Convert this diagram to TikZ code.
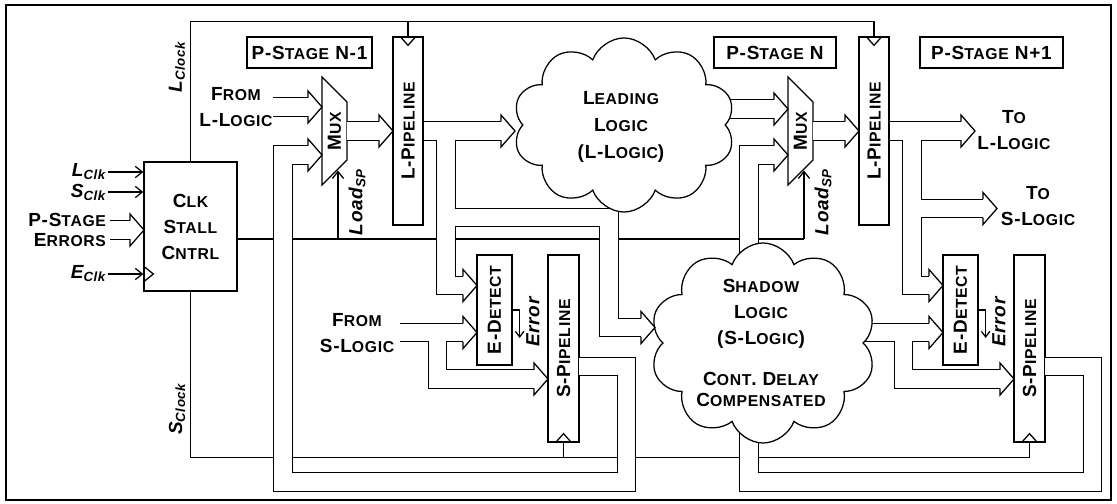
\documentclass[tikz,border=0pt]{standalone}
\usepackage{fontspec}
\setmainfont{Liberation Sans}[LetterSpace=4]
\usetikzlibrary{arrows.meta,fit,shapes.symbols}
\newcommand{\sm}[1]{{\fontsize{11.2}{18.5}\selectfont #1}}

\begin{document}
\begin{tikzpicture}[x=0.025cm, y=-0.025cm, line width=0.9pt, line join=miter,
    txt/.style={font=\fontsize{13.5}{18.5}\selectfont\bfseries, align=center, inner sep=1pt},
    sig/.style={font=\fontsize{13.5}{16}\selectfont\bfseries\itshape, inner sep=1pt},
    box/.style={draw, fill=white, inner sep=0pt},
    bus/.style={white, line width=12.26pt, preaction={draw=black, line width=14.06pt}},
    head/.style={fill=white},
    logic/.style={cloud, cloud puffs=10, cloud puff arc=140, cloud ignores aspect,
      draw, fill=white, inner sep=0pt},
    arr/.style={-{Straight Barb[length=5pt,width=8pt]}}]
  % pixel grid of the original, y going down
  \useasboundingbox (0,0) rectangle (1117,504);
  \draw[line width=1.4pt] (6,5) rectangle (1111,500);

  \node[box, fit={(144,162) (237,291)}] (clk) {};
  \node[box, fit={(247,37) (372,68)}] (psa) {};
  \node[box, fit={(714,37) (836,68)}] (psb) {};
  \node[box, fit={(920,37) (1063,68)}] (psc) {};
  % stage N-1 and stage N, 466 apart
  \foreach \dx/\s in {0/a,466/b} {
    \node[box, fit={(393+\dx,37) (423+\dx,225)}] (lpipe\s) {};
    \node[box, fit={(477+\dx,255) (512+\dx,365)}] (edet\s) {};
    \node[box, fit={(548+\dx,255) (579+\dx,442)}] (spipe\s) {};
    \draw[fill=white] (322+\dx,77) -- (347+\dx,102) -- (347+\dx,160)
      -- (322+\dx,185) -- cycle;
  }

  % clocks and stall line, run under the buses
  \draw (clk.north) -- ++(0,-140) -| (lpipeb.north);
  \draw (lpipea.north) -- ++(0,-15);
  \draw (clk.south) -- ++(0,166) -| (spipeb.south);
  \draw (spipea.south) -- ++(0,15);
  \draw (clk.east |- 0,239) -- (804,239);

  \draw[bus] (110,230) -- (130,230)
    (273,107) -- (308,107)
    (lpipea.east) -- (501,131)
    (446,217.5) -- (609,217.5) -- (609,327.5) -- (641,327.5)
    (400,332.5) -- (463,332.5)
    (715,109) -- (774,109)
    (lpipeb.east) -- (961,131)
    (912,208.5) -- (983,208.5)
    (860,332.5) -- (929,332.5)
    \foreach \dx in {0,466} {
      (347+\dx,131) -- (379+\dx,131)
      (446+\dx,131) -- (446+\dx,285.5) -- (463+\dx,285.5)
      (437.5+\dx,332.5) -- (437.5+\dx,379) -- (534+\dx,379)
      (579+\dx,366.5) -- (626.5+\dx,366.5) -- (626.5+\dx,482)
        -- (283+\dx,482) -- (283+\dx,155) -- (308+\dx,155)
    };

  \node[logic, minimum width=5.55cm, minimum height=4.35cm] (lead) at (624,125) {};
  \node[logic, minimum width=5.65cm, minimum height=5cm] (shad) at (763,343) {};

  % hollow bus arrow heads, tip at x/y
  \foreach \hx/\hy in {144/230, 322/107, 322/155, 393/131, 515/131, 477/285.5,
      477/332.5, 548/379, 655/327.5, 788/109, 788/155, 859/131, 975/131,
      997/208.5, 943/285.5, 943/332.5, 1014/379}
    \filldraw[head] (\hx-14,\hy-9.25) -- (\hx-14,\hy-16) -- (\hx,\hy)
      -- (\hx-14,\hy+16) -- (\hx-14,\hy+9.25);

  \foreach \dx/\s in {0/a,466/b} {
    \draw[arr] (338+\dx,239) -- (338+\dx,170.5);
    \draw[-{Straight Barb[length=4pt,width=6pt]}] (edet\s.east) -- ++(7,0) -- ++(0,28);
    \draw (lpipe\s.north) ++(-8,0) -- ++(8,9) -- ++(8,-9);
    \draw (spipe\s.south) ++(-8,0) -- ++(8,-9) -- ++(8,9);
    \node[txt, rotate=90] (mux\s) at (334.5+\dx,131) {M\sm{UX}};
    \node[txt, rotate=90] (lpt\s) at (lpipe\s) {L-P\sm{IPELINE}};
    \node[txt, rotate=90] (edt\s) at (edet\s) {E-D\sm{ETECT}};
    \node[txt, rotate=90] (spt\s) at (spipe\s) {S-P\sm{IPELINE}};
    \node[sig, rotate=90] (load\s) at (357+\dx,202) {Load\textsubscript{SP}};
    \node[sig, rotate=90] (err\s) at (533+\dx,322) {Error};
  }

  \node[sig, anchor=east] (lclk) at (108,172) {L\textsubscript{Clk}};
  \node[sig, anchor=east] (sclk) at (108,192) {S\textsubscript{Clk}};
  \node[sig, anchor=east] (eclk) at (108,274) {E\textsubscript{Clk}};
  \node[txt, align=right, anchor=east, font=\fontsize{13.5}{14.5}\selectfont\bfseries]
    (perr) at (108,230) {P-S\sm{TAGE}\\E\sm{RRORS}};
  \foreach \n in {lclk,sclk,eclk}
    \draw[arr] (\n.east) -- (\n.east -| clk.west);
  \draw (clk.west |- eclk.east) ++(0,-8) -- ++(10,8) -- ++(-10,8);
  \node[sig, rotate=90] (lclock) at (177,67) {L\textsubscript{Clock}};
  \node[sig, rotate=90] (sclock) at (177,409) {S\textsubscript{Clock}};

  \node[txt] (clkt) at (clk) {C\sm{LK}\\S\sm{TALL}\\C\sm{NTRL}};
  \node[txt] (psat) at (psa) {P-S\sm{TAGE} N-1};
  \node[txt] (psbt) at (psb) {P-S\sm{TAGE} N};
  \node[txt] (psct) at (psc) {P-S\sm{TAGE} N+1};
  \node[txt] (froml) at (236,107) {F\sm{ROM}\\L-L\sm{OGIC}};
  \node[txt] (froms) at (357,333.5) {F\sm{ROM}\\S-L\sm{OGIC}};
  \node[txt] (tol) at (1014,130) {T\sm{O}\\L-L\sm{OGIC}};
  \node[txt] (tos) at (1038,206) {T\sm{O}\\S-L\sm{OGIC}};
  \node[txt, font=\fontsize{13.5}{19}\selectfont\bfseries] (leadt) at (621,127)
    {L\sm{EADING}\\L\sm{OGIC}\\(L-L\sm{OGIC})};
  \node[txt] (shadt) at (761,314) {S\sm{HADOW}\\L\sm{OGIC}\\(S-L\sm{OGIC})};
  \node[txt, font=\fontsize{13.5}{15.5}\selectfont\bfseries] (shadn) at (761,389.5)
    {C\sm{ONT}. D\sm{ELAY}\\C\sm{OMPENSATED}};
\end{tikzpicture}
\end{document}
